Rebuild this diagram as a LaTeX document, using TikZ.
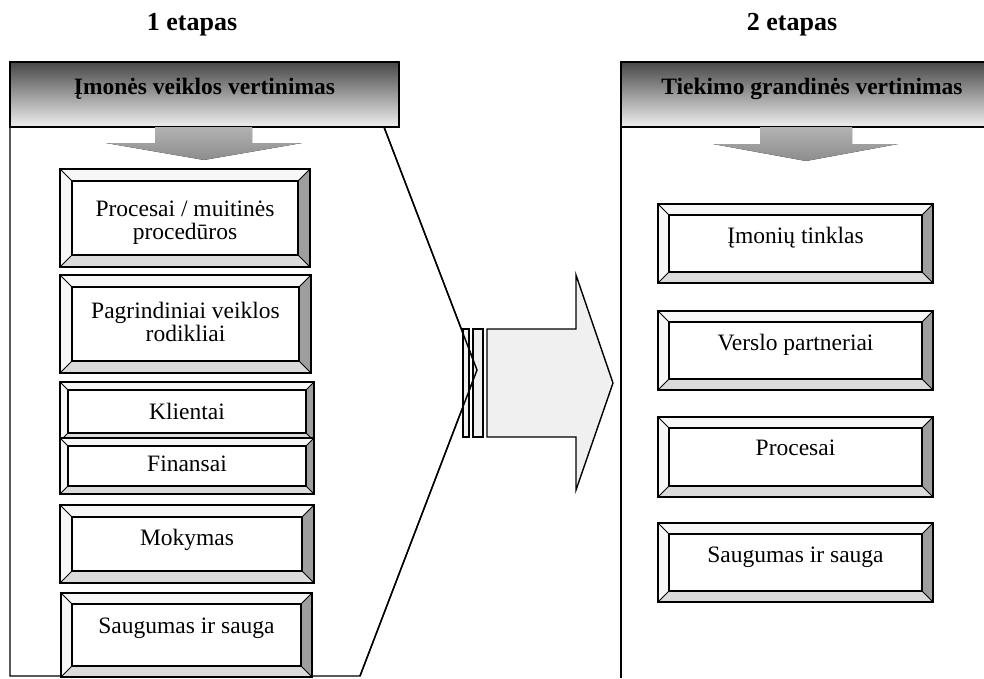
\documentclass[tikz,border=0pt]{standalone}
\usepackage{fontspec}
\setmainfont{Liberation Serif}
\usepackage{tikz}
\usetikzlibrary{positioning}
\definecolor{bevellight}{gray}{0.97}
\definecolor{bevelright}{gray}{0.62}
\definecolor{bevelbottom}{gray}{0.86}
\definecolor{arrowfill}{gray}{0.94}
\tikzset{
    panelline/.style={draw, line width=1.4pt, line join=miter},
    boxline/.style={draw, line width=1.5pt},
    cornerline/.style={draw, line width=1pt},
    header/.style={draw, line width=1.5pt, top color=black!72, middle color=black!20, bottom color=black!6},
    downarrow/.style={top color=black!30, middle color=black!75, bottom color=black!45},
    boxtext/.style={anchor=base, align=center, inner sep=0pt,
        font=\fontsize{23.5}{23}\selectfont},
    headtext/.style={anchor=base, inner sep=0pt,
        font=\fontsize{23.5}{26}\selectfont\bfseries},
    stagetext/.style={anchor=base, inner sep=0pt,
        font=\fontsize{26}{28}\selectfont\bfseries}
}
% bevelled box: name, x1, y1, x2, y2, bevel, baseline, text
\newcommand{\bevelbox}[8]{%
  \fill[bevellight] (#2,#3) -- (#4,#3) -- (#4-#6,#3+#6) -- (#2+#6,#3+#6) -- (#2+#6,#5-#6) -- (#2,#5) -- cycle;
  \fill[bevelright] (#4,#3) -- (#4,#5) -- (#4-#6,#5-#6) -- (#4-#6,#3+#6) -- cycle;
  \fill[bevelbottom] (#2,#5) -- (#4,#5) -- (#4-#6,#5-#6) -- (#2+#6,#5-#6) -- cycle;
  \draw[cornerline] (#2,#3) -- (#2+#6,#3+#6) (#4,#3) -- (#4-#6,#3+#6)
                    (#2,#5) -- (#2+#6,#5-#6) (#4,#5) -- (#4-#6,#5-#6);
  \draw[boxline] (#2,#3) rectangle (#4,#5);
  \draw[boxline, fill=white] (#2+#6,#3+#6) rectangle (#4-#6,#5-#6);
  \node[boxtext] (#1) at ({(#2+#4)/2},#7) {#8};
}

\begin{document}
\begin{tikzpicture}[x=1pt, y=-1pt]
  \useasboundingbox (0,0) rectangle (984,678);

  % Stage titles
  \node[stagetext] (stage1) at (192,30) {1 etapas};
  \node[stagetext] (stage2) at (792,30) {2 etapas};

  % Left panel
  \draw[panelline] (384,127) -- (477,370) -- (360,676) -- (10,676) -- (10,127);
  \path[header] (10,62) rectangle (399,127);
  \node[headtext] (hdr1) at (204.5,94) {Įmonės veiklos vertinimas};
  \fill[downarrow] (155,127) -- (252,127) -- (252,143) -- (302,143) -- (204,160)
    -- (106,143) -- (155,143) -- cycle;

  \bevelbox{proc}{60}{169}{310}{267}{12}{239}{Procesai / muitinės\\procedūros}
  \bevelbox{kpi}{60}{275}{311}{373}{12}{341}{Pagrindiniai veiklos\\rodikliai}
  \bevelbox{klient}{60}{382}{314}{441}{8}{419}{Klientai}
  \bevelbox{finans}{60}{438}{314}{494}{8}{471}{Finansai}
  \bevelbox{mokym}{60}{505}{314}{583}{12}{545}{Mokymas}
  \bevelbox{saug1}{61}{593}{312}{677}{11}{633}{Saugumas ir sauga}

  % Transition arrow
  \draw[line width=1.4pt, fill=arrowfill] (463,329) rectangle (469,437);
  \draw[line width=1.4pt, fill=arrowfill] (473,329) rectangle (483,437);
  \draw[line width=1.4pt, fill=arrowfill, line join=miter] (487,329) -- (576,329) -- (576,275)
    -- (613,383) -- (576,490) -- (576,437) -- (487,437) -- cycle;
  \draw[panelline] (384,127) -- (477,370) -- (360,676);

  % Right panel
  \draw[panelline] (621,127) -- (621,678);
  \fill[top color=black!72, middle color=black!20, bottom color=black!6] (621,62) rectangle (984,127);
  \draw[line width=1.5pt] (984,62) -- (621,62) -- (621,127) -- (984,127);
  \node[headtext] (hdr2) at (812,94) {Tiekimo grandinės vertinimas};
  \fill[downarrow] (760,127) -- (852,127) -- (852,144) -- (898,144) -- (806,161)
    -- (713,144) -- (760,144) -- cycle;

  \bevelbox{tinkl}{658}{204}{933}{283}{11}{243}{Įmonių tinklas}
  \bevelbox{partn}{658}{311}{933}{390}{11}{350}{Verslo partneriai}
  \bevelbox{proc2}{658}{417}{933}{497}{11}{455}{Procesai}
  \bevelbox{saug2}{658}{523}{933}{602}{11}{562}{Saugumas ir sauga}
\end{tikzpicture}
\end{document}
